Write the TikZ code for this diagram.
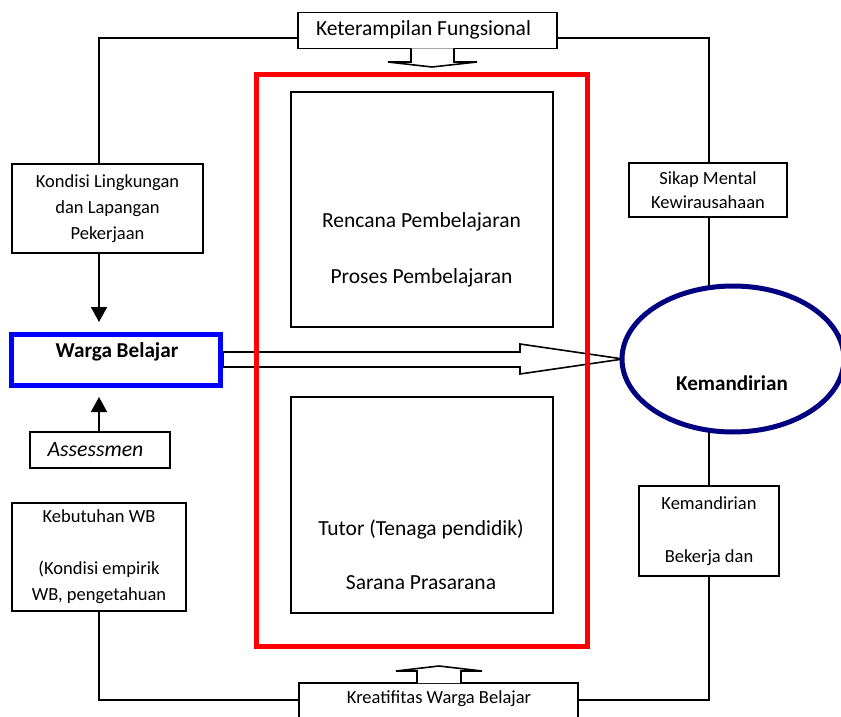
\documentclass[tikz,border=0pt]{standalone}
\usepackage{fontspec}
\setmainfont{Carlito}
\usetikzlibrary{arrows.meta,shapes.geometric}
\definecolor{wbblue}{RGB}{0,0,255}
\definecolor{kemnavy}{RGB}{0,0,128}
\definecolor{redframe}{RGB}{255,0,0}
\begin{document}
\begin{tikzpicture}[x=1pt,y=-1pt,
  box/.style={draw=black,line width=1.6pt,fill=white,inner sep=0pt,align=center,font=\fontsize{18.5}{26}\selectfont},
  txt/.style={inner sep=0pt,align=center,font=\fontsize{18.5}{26}\selectfont},
  bigtxt/.style={inner sep=0pt,align=center,font=\fontsize{21.5}{26}\selectfont},
  conn/.style={draw=black,line width=1.6pt},
  blockarrow/.style={draw=black,line width=1.6pt,fill=white,line join=miter},
  tip/.style={-{Triangle[length=15pt,width=16pt]}}
]
\useasboundingbox (0,0) rectangle (841,717);

% frame coordinates
\coordinate (tl) at (99,38);
\coordinate (tr) at (709,38);
\coordinate (bl) at (99,700);
\coordinate (br) at (709,700);

% boxes
\node[box,minimum width=259pt,minimum height=36pt] (keter) at (427.5,30.5) {};
\node[bigtxt] (ketertxt) at (423.5,30) {Keterampilan Fungsional};
\node[box,minimum width=191pt,minimum height=89pt] (kondisi) at (107.5,208.5) {Kondisi Lingkungan\\dan Lapangan\\Pekerjaan};
\node[box,minimum width=140pt,minimum height=36pt] (assess) at (100,450) {};
\node[txt,font=\fontsize{21.8}{26}\selectfont\itshape] (assesstxt) at (95.5,450) {Assessmen};
\node[box,minimum width=174pt,minimum height=108pt] (kebut) at (99,557) {Kebutuhan WB\\[26pt](Kondisi empirik\\WB, pengetahuan};
\node[box,minimum width=158pt,minimum height=54pt,font=\fontsize{18.5}{24}\selectfont] (sikap) at (708,190) {Sikap Mental\\Kewirausahaan};
\node[box,minimum width=140pt,minimum height=90pt] (kemb) at (709,531) {Kemandirian\\[27pt]Bekerja dan};
\node[box,minimum width=279pt,minimum height=44pt] (kreat) at (438.5,705) {};
\node[txt] (kreattxt) at (439,699) {Kreatifitas Warga Belajar};

% frame connectors
\draw[conn] (kondisi.north -| tl) -- (tl) -- (keter.west |- tl);
\draw[conn] (keter.east |- tr) -- (tr) -- (sikap.north -| tr);
\draw[conn] (sikap.south -| tr) -- (709,300);
\draw[conn] (709,420) -- (kemb.north -| tr);
\draw[conn] (kemb.south -| tr) -- (br) -- (kreat.east |- br);
\draw[conn] (kebut.south -| bl) -- (bl) -- (kreat.west |- bl);

% arrows to Warga Belajar
\draw[conn,tip,shorten >=10pt] (kondisi.south -| tl) -- (99,332);
\draw[conn,tip,shorten >=11pt] (assess.north -| tl) -- (99,386);

% hollow arrows top and bottom
\draw[blockarrow] (411,48.5) -- (411,62) -- (388,62) -- (432,67) -- (477,62) -- (454,62) -- (454,48.5);
\draw[blockarrow] (417,683) -- (417,671) -- (396,671) -- (439,666) -- (482,671) -- (461,671) -- (461,683);

% big hollow arrow
\draw[blockarrow] (223,352) -- (520,352) -- (520,344) -- (623,359) -- (520,374) -- (520,367) -- (223,367) -- cycle;

% red frame and inner boxes
\draw[draw=redframe,line width=5pt] (256,75) rectangle (587.5,646);
\node[box,minimum width=262pt,minimum height=235pt] (plan) at (422,209.5) {};
\node[bigtxt] (plantxt) at (421.5,250) {Rencana Pembelajaran\\[30pt]Proses Pembelajaran};
\node[box,minimum width=262pt,minimum height=216pt] (tutor) at (422,505) {};
\node[bigtxt] (tutortxt) at (421,555) {Tutor (Tenaga pendidik)\\[28pt]Sarana Prasarana};

% Warga Belajar
\node[draw=wbblue,line width=5.5pt,fill=white,inner sep=0pt,minimum width=209pt,minimum height=51pt] (warga) at (116,360) {};
\node[txt,font=\fontsize{21.2}{26}\selectfont\bfseries] (wargatxt) at (117,352) {Warga Belajar};

% Kemandirian ellipse
\node[ellipse,draw=kemnavy,line width=5pt,fill=white,inner sep=0pt,minimum width=222pt,minimum height=146pt] (kem) at (733,359) {};
\node[txt,font=\fontsize{21.1}{26}\selectfont\bfseries] (kemtxt) at (732,383) {Kemandirian};
\end{tikzpicture}
\end{document}
